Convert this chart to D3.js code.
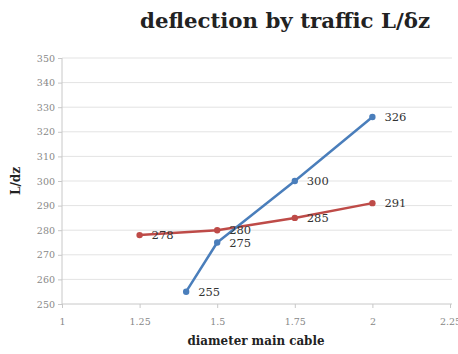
<!DOCTYPE html>
<html><head><meta charset="utf-8">
<script src="https://cdn.jsdelivr.net/npm/d3@7"></script>
<style>body{margin:0;background:#fff;}svg{display:block;}</style>
</head><body>
<svg id="c" width="458" height="354"></svg>
<script>
const title = "deflection by traffic L/δz";
const xTitle = "diameter main cable";
const yTitle = "L/dz";
const xTicks = [1, 1.25, 1.5, 1.75, 2, 2.25];
const yTicks = [250, 260, 270, 280, 290, 300, 310, 320, 330, 340, 350];
const blueX = [1.4, 1.5, 1.75, 2];
const blueY = [255, 275, 300, 326];
const redX = [1.25, 1.5, 1.75, 2];
const redY = [278, 280, 285, 291];

const svg = d3.select("#c");
const x = d3.scaleLinear().domain([1, 2.25]).range([62, 450]);
const y = d3.scaleLinear().domain([250, 350]).range([304, 58]);
const serif = "'DejaVu Serif', 'Liberation Serif', serif";

svg.append("text").attr("x", 285).attr("y", 28).attr("text-anchor", "middle")
  .attr("font-family", serif).attr("font-weight", "bold").attr("font-size", 20)
  .attr("fill", "#222").attr("textLength", 290).attr("lengthAdjust", "spacingAndGlyphs").text(title);

// gridlines
svg.append("g").selectAll("line").data(yTicks.slice(1)).join("line")
  .attr("x1", 62).attr("x2", 452).attr("y1", d => y(d)).attr("y2", d => y(d))
  .attr("stroke", "#e3e3e3").attr("stroke-width", 1);

const yAxis = svg.append("g").attr("transform", "translate(62,0)")
  .call(d3.axisLeft(y).tickValues(yTicks).tickSize(4).tickFormat(d3.format("d")));
const xAxis = svg.append("g").attr("transform", "translate(0,304)")
  .call(d3.axisBottom(x).tickValues(xTicks).tickSize(4).tickFormat(d => String(d)));
[yAxis, xAxis].forEach(a => {
  a.selectAll("path,line").attr("stroke", "#c8c8c8");
  a.selectAll("text").attr("font-family", serif).attr("font-size", 9.5).attr("fill", "#888");
});
yAxis.select(".domain").attr("d", "M0,58V304");
xAxis.select(".domain").attr("d", "M62,0H452");
xAxis.selectAll("text").attr("dy", "1.5em");

svg.append("text").attr("x", 256).attr("y", 345).attr("text-anchor", "middle")
  .attr("font-family", serif).attr("font-weight", "bold").attr("font-size", 12)
  .attr("fill", "#222").attr("textLength", 137).attr("lengthAdjust", "spacingAndGlyphs").text(xTitle);
svg.append("text").attr("transform", "translate(20,181) rotate(-90)").attr("text-anchor", "middle")
  .attr("font-family", serif).attr("font-weight", "bold").attr("font-size", 12)
  .attr("fill", "#222").text(yTitle);

const line = d3.line().x(d => x(d[0])).y(d => y(d[1]));
const series = [
  {xs: redX, ys: redY, color: "#be4b48"},
  {xs: blueX, ys: blueY, color: "#4a7ebb"}
];
series.forEach(s => {
  const pts = s.xs.map((v, i) => [v, s.ys[i]]);
  svg.append("path").datum(pts).attr("d", line).attr("fill", "none")
    .attr("stroke", s.color).attr("stroke-width", 2.5).attr("stroke-linejoin", "round");
  svg.append("g").selectAll("circle").data(pts).join("circle")
    .attr("cx", d => x(d[0])).attr("cy", d => y(d[1])).attr("r", 3.2).attr("fill", s.color);
});
series.forEach(s => {
  const pts = s.xs.map((v, i) => [v, s.ys[i]]);
  svg.append("g").selectAll("text").data(pts).join("text")
    .attr("x", d => x(d[0]) + 12).attr("y", d => y(d[1]) + 4)
    .attr("font-family", serif).attr("font-size", 11.5).attr("fill", "#333")
    .text(d => d[1]);
});
</script>
</body></html>
